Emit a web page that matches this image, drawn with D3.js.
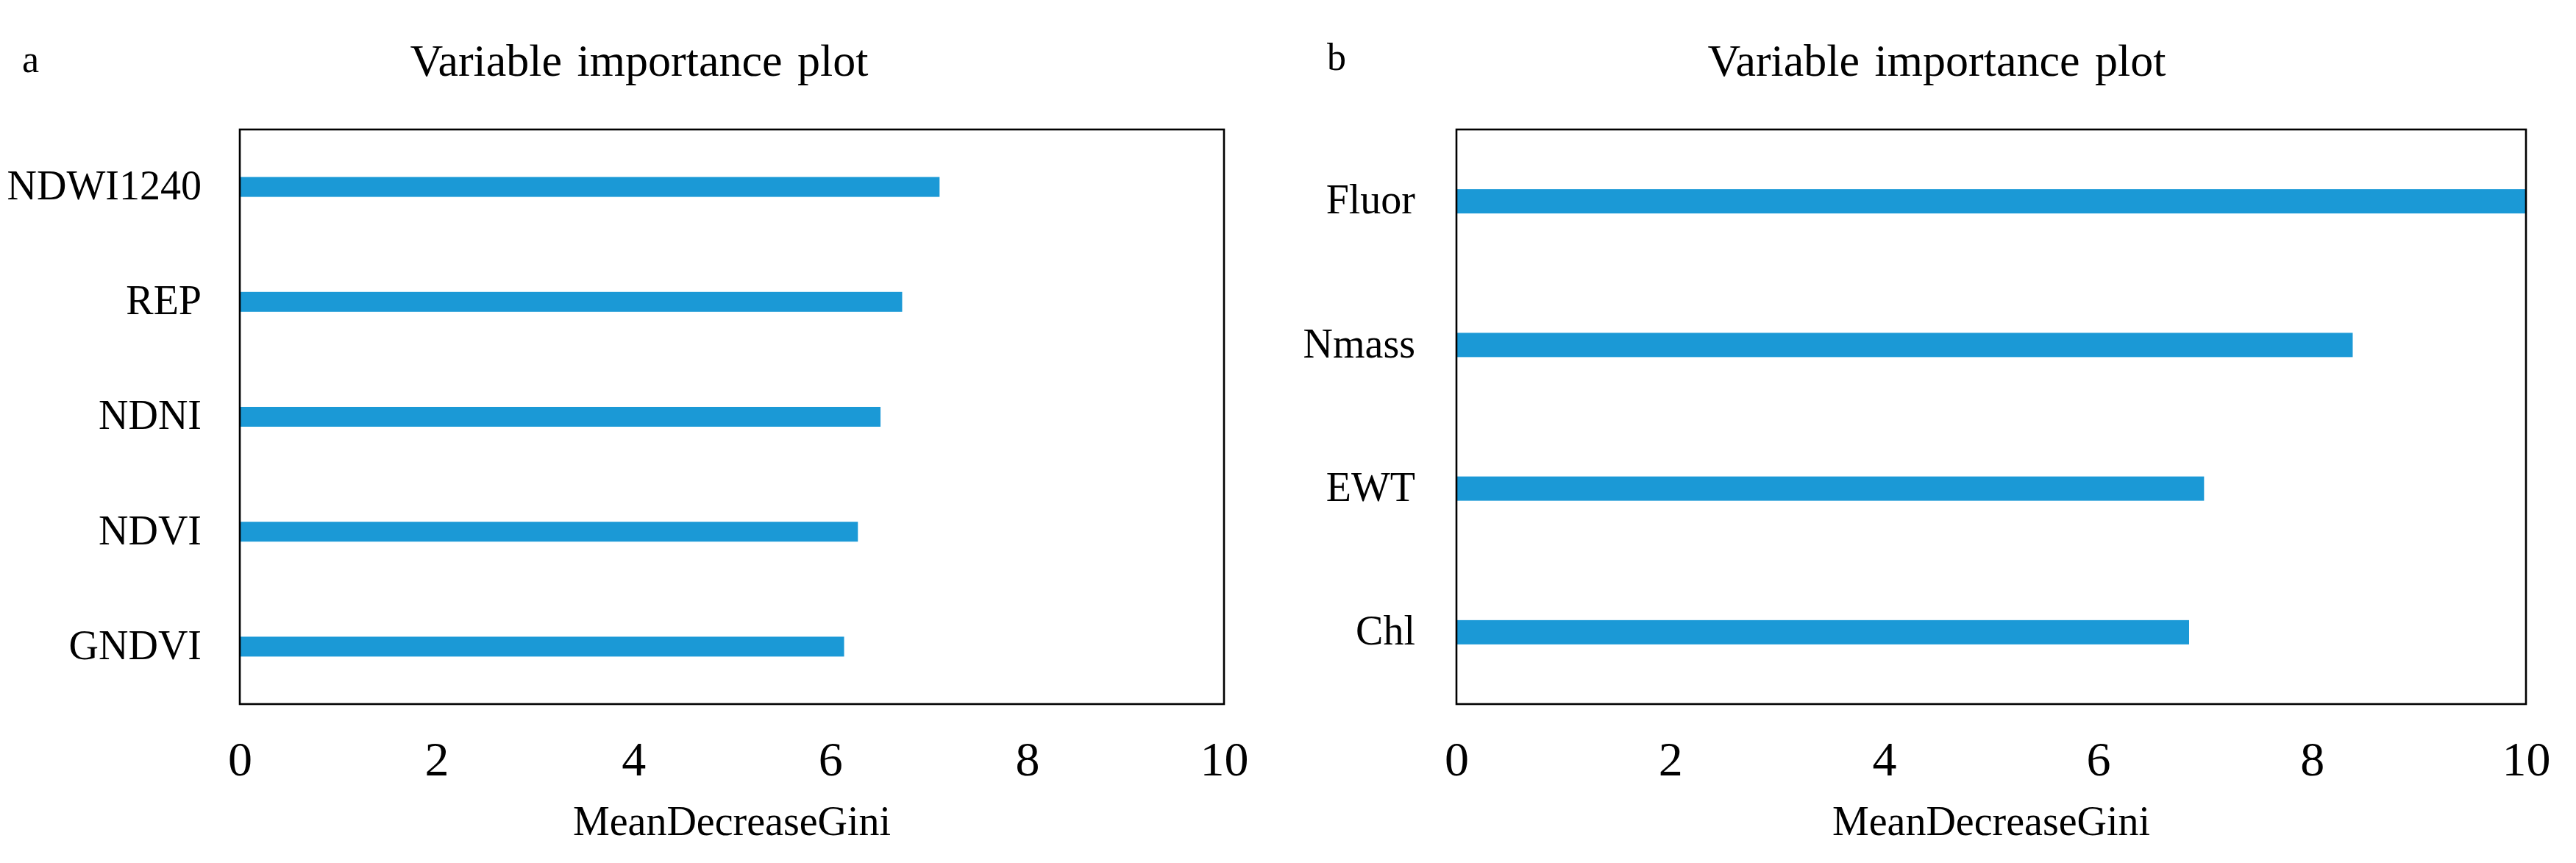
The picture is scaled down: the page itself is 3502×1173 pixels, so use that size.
<!DOCTYPE html>
<html>
<head>
<meta charset="utf-8">
<script src="https://cdn.jsdelivr.net/npm/d3@7"></script>
<style>
  html, body { margin: 0; padding: 0; background: #ffffff; }
  svg { display: block; }
  text { font-family: "Liberation Serif", "Times New Roman", serif; fill: #000; }
</style>
</head>
<body>
<script>
// ---- data ----
const leftCategories = ["NDWI1240", "REP", "NDNI", "NDVI", "GNDVI"];
const leftValues = [7.11, 6.73, 6.51, 6.28, 6.14];
const rightCategories = ["Fluor", "Nmass", "EWT", "Chl"];
const rightValues = [10.0, 8.38, 6.99, 6.85];
const xTickValues = [0, 2, 4, 6, 8, 10];
const xDomain = [0, 10];
const panelLabels = ["a", "b"];
const chartTitle = "Variable importance plot";
const xAxisTitle = "MeanDecreaseGini";

// ---- layout ----
const W = 3502, H = 1173;
const barColor = "#1b99d6";

const svg = d3.select("body").append("svg")
  .attr("width", W).attr("height", H);
svg.append("rect").attr("width", W).attr("height", H).attr("fill", "#fff");

const panels = [
  { cats: leftCategories, vals: leftValues, label: panelLabels[0],
    x0: 326, x1: 1664, y0: 176, y1: 957, barH: 27,
    titleX: 869, labelX: 30, labelY: 98, yPad: 52 },
  { cats: rightCategories, vals: rightValues, label: panelLabels[1],
    x0: 1980, x1: 3434, y0: 176, y1: 957, barH: 33,
    titleX: 2633, labelX: 1804, labelY: 95, yPad: 56 }
];

panels.forEach(p => {
  const g = svg.append("g");
  const x = d3.scaleLinear().domain(xDomain).range([p.x0, p.x1]);
  const y = d3.scaleBand().domain(p.cats).range([p.y0, p.y1]).paddingInner(0).paddingOuter(0);
  const data = p.cats.map((c, i) => ({ c, v: p.vals[i] }));

  // bars
  g.selectAll("rect.bar").data(data).enter().append("rect")
    .attr("class", "bar")
    .attr("x", x(0))
    .attr("y", d => y(d.c) + y.bandwidth() / 2 - p.barH / 2)
    .attr("width", d => x(d.v) - x(0))
    .attr("height", p.barH)
    .attr("fill", barColor);

  // frame
  g.append("rect")
    .attr("x", p.x0).attr("y", p.y0)
    .attr("width", p.x1 - p.x0).attr("height", p.y1 - p.y0)
    .attr("fill", "none").attr("stroke", "#000").attr("stroke-width", 2.6);

  // x axis
  const xAxis = d3.axisBottom(x).tickValues(xTickValues).tickSize(0).tickPadding(0)
    .tickFormat(d3.format("d"));
  const gx = g.append("g").attr("transform", `translate(0,${p.y1})`).call(xAxis);
  gx.select(".domain").remove();
  gx.selectAll("text")
    .attr("y", 97).attr("dy", 0)
    .style("font-size", "66px")
    .style("font-family", "'Liberation Serif', serif")
    .attr("fill", "#000");

  // y axis
  const yAxis = d3.axisLeft(y).tickSize(0).tickPadding(p.yPad);
  const gy = g.append("g").attr("transform", `translate(${p.x0},0)`).call(yAxis);
  gy.select(".domain").remove();
  gy.selectAll("text")
    .attr("dy", "0.3em")
    .style("font-size", "56px")
    .style("font-family", "'Liberation Serif', serif")
    .attr("fill", "#000");

  // x axis title
  g.append("text")
    .attr("x", (p.x0 + p.x1) / 2).attr("y", 1135)
    .attr("text-anchor", "middle")
    .style("font-size", "56px")
    .text(xAxisTitle);

  // chart title
  g.append("text")
    .attr("x", p.titleX).attr("y", 103)
    .attr("text-anchor", "middle")
    .style("font-size", "62px")
    .style("word-spacing", "5px")
    .text(chartTitle);

  // panel label
  g.append("text")
    .attr("x", p.labelX).attr("y", p.labelY)
    .style("font-size", "52px")
    .text(p.label);
});
</script>
</body>
</html>
